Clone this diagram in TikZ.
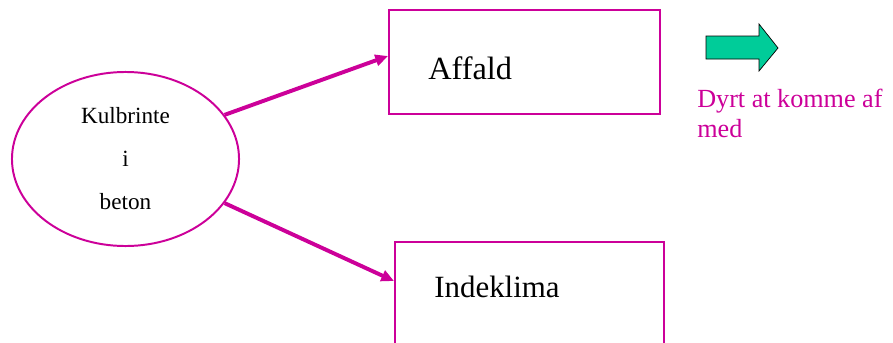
\documentclass[tikz,border=0pt]{standalone}
\usepackage{fontspec}
\setmainfont{Liberation Serif}
\usepackage{tikz}
\usetikzlibrary{shapes.geometric, arrows.meta, positioning, calc}
\definecolor{pinkline}{RGB}{204,0,153}
\definecolor{greenarrow}{RGB}{0,204,153}

\begin{document}
\begin{tikzpicture}[ x=0.025cm, y=-0.025cm,
      topic/.style={ellipse, draw=pinkline, line width=1.4pt, minimum
      width=5.675cm, minimum height=4.35cm, inner sep=0pt, align=center,
      font=\fontsize{16.5pt}{30.6pt}\selectfont},
      effectbox/.style={rectangle, draw=pinkline, line width=1.4pt, inner
      sep=0pt},
      boxlabel/.style={anchor=base west, inner sep=0pt, text=black},
      effectarrow/.style={pinkline, line width=2.8pt,
      -{Triangle[length=9pt, width=8pt]}},
      notelabel/.style={anchor=base west, inner sep=0pt, align=left,
      text=pinkline, font=\fontsize{18.6pt}{21.3pt}\selectfont} ]
    \clip (0,0) rectangle (893,342);

    % Ellipse on the left
    \node[topic] (kulbrinte) at (125.5,159) {Kulbrinte\\i\\beton};

    % Boxes
    \node[effectbox, minimum width=6.775cm, minimum height=2.6cm] (affald)
    at (524.5,62) {}; \node[effectbox, minimum width=6.725cm, minimum
    height=2.6cm] (indeklima) at (529.5,294) {};

    % Labels inside boxes
    \node[boxlabel, font=\fontsize{23pt}{28pt}\selectfont] (affaldtxt) at
    (428,79) {Affald}; \node[boxlabel, font=\fontsize{22pt}{28pt}\selectfont]
    (indeklimatxt) at (434,297) {Indeklima};

    % Arrows from the ellipse
    \draw[effectarrow] (kulbrinte.24) -- ($(affald.north west)+(0,47)$);
    \draw[effectarrow] (kulbrinte.-24) -- ($(indeklima.north west)+(0,40)$);

    % Green block arrow
    \draw[fill=greenarrow, draw=black, line width=0.5pt] (706,36) -- (759,36)
    -- (759,24) -- (778,48) -- (759,71) -- (759,59) -- (706,59) -- cycle;

    % Note to the right
    \node[notelabel] (dyrt) at (697,137) {Dyrt at komme af\\med};

    \end{tikzpicture}
\end{document}
